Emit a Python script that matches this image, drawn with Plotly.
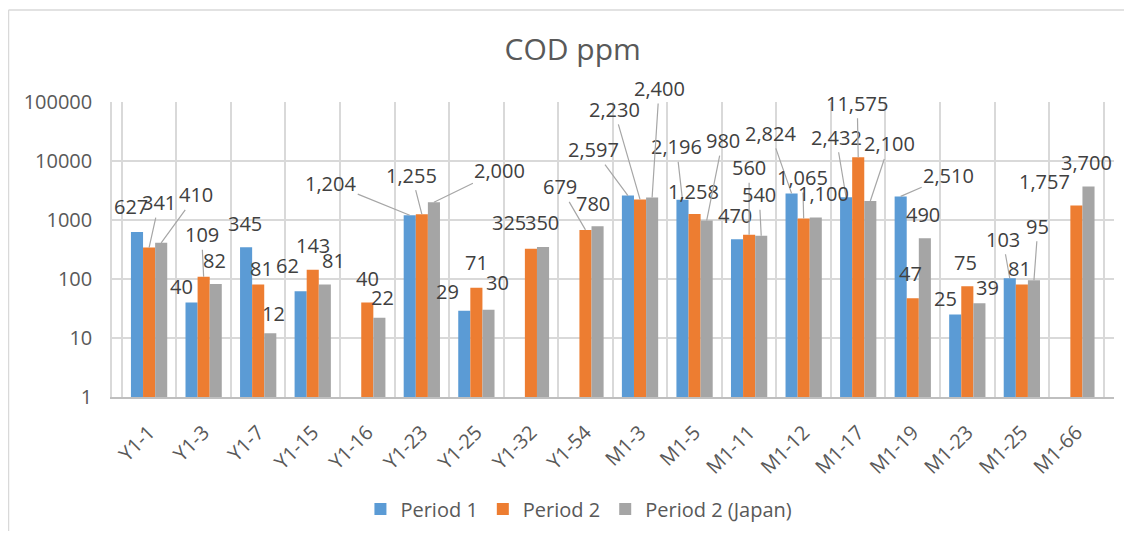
import math
import plotly.graph_objects as go

categories = ["Y1-1", "Y1-3", "Y1-7", "Y1-15", "Y1-16", "Y1-23", "Y1-25", "Y1-32", "Y1-54",
              "M1-3", "M1-5", "M1-11", "M1-12", "M1-17", "M1-19", "M1-23", "M1-25", "M1-66"]
period1 = [627, 40, 345, 62, None, 1204, 29, None, None,
           2597, 2196, 470, 2824, 2432, 2510, 25, 103, None]
period2 = [341, 109, 81, 143, 40, 1255, 71, 325, 679,
           2230, 1258, 560, 1065, 11575, 47, 75, 81, 1757]
period2_japan = [410, 82, 12, 81, 22, 2000, 30, 350, 780,
                 2400, 980, 540, 1100, 2100, 490, 39, 95, 3700]
y_tickvals = [1, 10, 100, 1000, 10000, 100000]
y_ticktext = ["1", "10", "100", "1000", "10000", "100000"]

# label placement (px offset from bar top, leader line or not) - hand placed in the original
p1_labels = [(-6, -25, 0), (-10, -16, 0), (-1, -24, 0), (-13, -26, 0), None, (-79, -32, 1),
             (-17, -19, 0), None, None, (-34, -46, 1), (-6, -53, 1), (-2, -24, 0),
             (-21, -60, 1), (-10, -60, 1), (48, -21, 1), (-10, -16, 0), (-7, -39, 1), None]
p2_labels = [(10, -45, 1), (-2, -42, 1), (3, -16, 0), (0, -24, 0), (0, -24, 0), (-10, -39, 1),
             (0, -25, 0), (-22, -26, 0), (-25, -43, 1), (-26, -90, 1), (-1, -23, 0), (0, -67, 1),
             (-1, -41, 1), (-1, -54, 1), (-2, -25, 0), (-2, -24, 0), (-2, -16, 0), (-32, -24, 0)]
jp_labels = [(35, -48, 1), (-1, -24, 0), (3, -20, 0), (9, -24, 0), (3, -20, 0), (66, -32, 1),
             (9, -27, 0), (-1, -24, 0), (-5, -23, 0), (7, -109, 1), (16, -80, 1), (-2, -41, 1),
             (8, -24, 0), (19, -57, 1), (-2, -24, 0), (8, -16, 0), (4, -54, 1), (-2, -24, 0)]

FONT = "Open Sans"
bargap = 0.335
series = [
    ("Period 1", period1, "#5B9BD5", p1_labels),
    ("Period 2", period2, "#ED7D31", p2_labels),
    ("Period 2 (Japan)", period2_japan, "#A5A5A5", jp_labels),
]

fig = go.Figure()
for name, vals, color, _ in series:
    fig.add_trace(go.Bar(name=name, x=categories, y=vals, marker_color=color,
                         marker_line_width=0))

# data labels, with leader lines where the original has them
w = (1 - bargap) / 3
for k, (name, vals, color, labels) in enumerate(series):
    for i, v in enumerate(vals):
        if v is None:
            continue
        dx, dy, leader = labels[i]
        fig.add_annotation(
            x=i + (k - 1) * w, y=math.log10(v), xref="x", yref="y",
            axref="pixel", ayref="pixel", xanchor="center", yanchor="middle",
            text=f"{v:,}", showarrow=True, ax=dx, ay=dy, arrowhead=0, arrowwidth=1.2,
            arrowcolor="#A6A6A6" if leader else "rgba(0,0,0,0)", standoff=0,
            font=dict(family=FONT, size=20, color="#404040"),
        )

# outer chart border: only its left and top edges fall inside the picture
border = dict(color="#D9D9D9", width=1.5)
fig.add_shape(type="line", xref="paper", yref="paper", x0=-0.1033, x1=-0.1033,
              y0=-0.9, y1=1.312, line=border, layer="below")
fig.add_shape(type="line", xref="paper", yref="paper", x0=-0.1033, x1=1.05,
              y0=1.312, y1=1.312, line=border, layer="below")

# page body has an 8px margin, so keep the figure small enough not to scroll
fig.update_layout(
    width=1116, height=523,
    margin=dict(l=104, r=10, t=94, b=134, autoexpand=False),
    paper_bgcolor="white", plot_bgcolor="white",
    barmode="group", bargap=bargap, bargroupgap=0,
    font=dict(family=FONT, size=20, color="#595959"),
    title=dict(text="COD ppm", x=0.506, xref="container", xanchor="center",
               y=0.92, yref="container", yanchor="middle",
               font=dict(family=FONT, size=30, color="#595959")),
    legend=dict(orientation="h", x=0.466, xanchor="center", y=-0.38, yanchor="middle",
                font=dict(family=FONT, size=20, color="#595959")),
    showlegend=True,
)
fig.update_xaxes(type="category", tickson="boundaries", showgrid=True, gridcolor="#D9D9D9",
                 gridwidth=1.5, showline=True, linecolor="#BFBFBF", linewidth=1.5,
                 tickangle=-45, ticks="", ticklabelstandoff=14, automargin=False)
fig.update_yaxes(type="log", range=[0, 5], tickvals=y_tickvals, ticktext=y_ticktext,
                 showgrid=True, gridcolor="#D9D9D9", gridwidth=1.5, zeroline=False,
                 showline=True, linecolor="#D9D9D9", linewidth=1.5, ticks="",
                 ticklabelstandoff=14, automargin=False)

fig.write_html("out.html")
